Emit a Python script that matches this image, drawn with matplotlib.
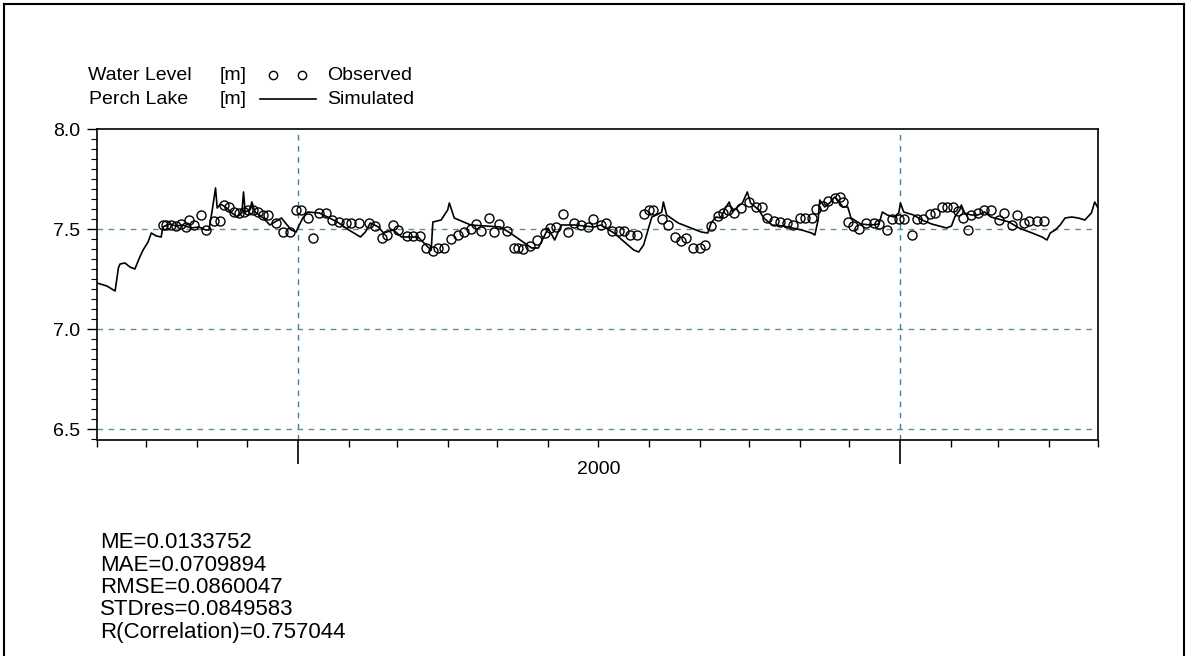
import matplotlib
matplotlib.use("Agg")
import matplotlib.pyplot as plt
import matplotlib.dates as mdates
from matplotlib.lines import Line2D
from matplotlib.ticker import MultipleLocator, FormatStrFormatter
import matplotlib.transforms as mtransforms
import pandas as pd

plt.rcParams['font.family'] = ['Liberation Sans', 'DejaVu Sans']

# day counts start at 1999-09-01
start = pd.Timestamp('1999-09-01')
end = pd.Timestamp('2001-05-01')

sim_day = [0, 6, 11, 13, 14, 17, 20, 23, 26, 28,
           31, 33, 36, 39, 40, 44, 48, 52, 57, 62,
           66, 68, 70, 72, 73, 75, 78, 82, 85, 88,
           89, 90, 93, 94, 96, 101, 105, 108, 112, 118,
           121, 122, 125, 128, 135, 140, 146, 153, 160, 163,
           166, 171, 174, 180, 185, 195, 201, 203, 204, 209,
           213, 214, 217, 227, 245, 251, 264, 268, 272, 274,
           278, 282, 290, 302, 306, 314, 326, 329, 332, 335,
           337, 341, 343, 344, 346, 353, 367, 371, 373, 376,
           379, 381, 384, 386, 389, 392, 395, 397, 402, 405,
           410, 417, 428, 434, 436, 438, 439, 442, 445, 448,
           450, 453, 456, 458, 464, 470, 475, 477, 480, 484,
           487, 488, 490, 496, 501, 507, 516, 519, 521, 524,
           525, 527, 531, 535, 539, 543, 554, 560, 568, 574,
           577, 579, 582, 585, 588, 592, 596, 600, 604, 606,
           608]
sim_level = [7.23, 7.215, 7.19, 7.305, 7.325, 7.33, 7.31, 7.30, 7.36, 7.395,
             7.435, 7.48, 7.465, 7.46, 7.51, 7.525, 7.515, 7.52, 7.505, 7.51,
             7.495, 7.495, 7.595, 7.705, 7.605, 7.625, 7.61, 7.58, 7.56, 7.58,
             7.685, 7.585, 7.595, 7.635, 7.585, 7.555, 7.52, 7.535, 7.555, 7.495,
             7.485, 7.505, 7.555, 7.585, 7.58, 7.56, 7.535, 7.495, 7.46, 7.485,
             7.53, 7.51, 7.48, 7.495, 7.46, 7.46, 7.41, 7.395, 7.535, 7.545,
             7.595, 7.63, 7.555, 7.52, 7.51, 7.48, 7.405, 7.405, 7.47, 7.505,
             7.445, 7.52, 7.52, 7.51, 7.52, 7.48, 7.395, 7.385, 7.42, 7.505,
             7.56, 7.575, 7.585, 7.635, 7.57, 7.53, 7.485, 7.48, 7.53, 7.56,
             7.555, 7.595, 7.635, 7.585, 7.61, 7.63, 7.685, 7.63, 7.595, 7.555,
             7.52, 7.515, 7.495, 7.48, 7.47, 7.545, 7.645, 7.61, 7.63, 7.66,
             7.645, 7.61, 7.61, 7.555, 7.525, 7.52, 7.525, 7.585, 7.57, 7.56,
             7.58, 7.63, 7.585, 7.57, 7.545, 7.525, 7.505, 7.515, 7.56, 7.595,
             7.62, 7.58, 7.57, 7.57, 7.585, 7.56, 7.535, 7.505, 7.48, 7.46,
             7.445, 7.48, 7.495, 7.52, 7.555, 7.56, 7.555, 7.545, 7.58, 7.635,
             7.605]

obs_day = [40, 42, 45, 48, 51, 54, 56, 59, 63, 66,
           71, 75, 77, 80, 83, 86, 89, 92, 95, 98,
           101, 104, 109, 113, 117, 121, 124, 128, 131, 135,
           139, 143, 147, 151, 154, 159, 165, 169, 173, 176,
           180, 183, 188, 192, 196, 200, 204, 207, 211, 215,
           219, 223, 227, 230, 233, 238, 241, 244, 249, 253,
           256, 259, 263, 267, 272, 275, 279, 283, 286, 290,
           294, 298, 301, 306, 309, 313, 317, 320, 324, 328,
           332, 335, 338, 343, 347, 351, 355, 358, 362, 366,
           369, 373, 377, 380, 383, 387, 391, 396, 400, 404,
           407, 411, 415, 419, 423, 427, 430, 434, 437, 441,
           444, 448, 451, 453, 456, 459, 463, 467, 472, 475,
           480, 483, 487, 490, 495, 498, 502, 506, 509, 513,
           516, 520, 523, 526, 529, 531, 535, 539, 543, 548,
           551, 556, 559, 563, 566, 571, 575]
obs_level = [7.52, 7.52, 7.52, 7.515, 7.525, 7.51, 7.545, 7.52, 7.57, 7.495,
             7.54, 7.54, 7.62, 7.61, 7.585, 7.58, 7.585, 7.595, 7.595, 7.585,
             7.57, 7.57, 7.53, 7.485, 7.485, 7.595, 7.595, 7.555, 7.455, 7.58,
             7.58, 7.545, 7.535, 7.53, 7.53, 7.53, 7.53, 7.515, 7.455, 7.47,
             7.52, 7.495, 7.465, 7.465, 7.465, 7.405, 7.39, 7.405, 7.405, 7.45,
             7.47, 7.485, 7.50, 7.525, 7.49, 7.555, 7.485, 7.525, 7.49, 7.405,
             7.405, 7.40, 7.415, 7.445, 7.48, 7.505, 7.51, 7.575, 7.485, 7.53,
             7.52, 7.51, 7.55, 7.52, 7.53, 7.49, 7.49, 7.49, 7.47, 7.47,
             7.575, 7.595, 7.595, 7.55, 7.52, 7.46, 7.44, 7.455, 7.405, 7.405,
             7.42, 7.515, 7.565, 7.58, 7.595, 7.58, 7.605, 7.635, 7.61, 7.61,
             7.555, 7.54, 7.535, 7.53, 7.52, 7.555, 7.555, 7.555, 7.60, 7.615,
             7.64, 7.655, 7.66, 7.635, 7.535, 7.515, 7.50, 7.53, 7.53, 7.525,
             7.495, 7.55, 7.55, 7.55, 7.47, 7.55, 7.55, 7.575, 7.58, 7.61,
             7.61, 7.61, 7.59, 7.555, 7.495, 7.57, 7.58, 7.595, 7.595, 7.545,
             7.58, 7.52, 7.57, 7.53, 7.54, 7.54, 7.54]

stats = ["ME=0.0133752", "MAE=0.0709894", "RMSE=0.0860047",
         "STDres=0.0849583", "R(Correlation)=0.757044"]

sim_date = start + pd.to_timedelta(sim_day, unit='D')
obs_date = start + pd.to_timedelta(obs_day, unit='D')

W, H = 1188, 656
fig = plt.figure(figsize=(W / 100, H / 100), dpi=100)


def fx(x):
    return x / W


def fy(y):
    return 1 - y / H


ax = fig.add_axes([fx(97), fy(440), (1098 - 97) / W, (440 - 129) / H])

# grid lines
for v in [6.5, 7.0, 7.5]:
    ax.axhline(v, color='#5e9186', lw=1.0, dashes=(4, 4), zorder=1)
for d in ['2000-01-01', '2001-01-01']:
    ax.axvline(pd.Timestamp(d), color='#3a80a8', lw=1.0, dashes=(4, 4), zorder=1)

ax.plot(sim_date, sim_level, color='black', lw=1.2, zorder=3)
ax.plot(obs_date, obs_level, ls='none', marker='o', ms=6.5, mfc='none',
        mec='black', mew=1.0, zorder=4)

ax.set_xlim(start, end)
ax.set_ylim(6.445, 8.0)

ax.xaxis.set_major_locator(mdates.YearLocator())
ax.xaxis.set_minor_locator(mdates.MonthLocator())
ax.tick_params(axis='x', which='major', direction='out', length=17, width=1.2,
               labelbottom=False)
ax.tick_params(axis='x', which='minor', direction='out', length=5, width=1.0)

ax.yaxis.set_major_locator(MultipleLocator(0.5))
ax.yaxis.set_minor_locator(MultipleLocator(0.05))
ax.yaxis.set_major_formatter(FormatStrFormatter('%.1f'))
ax.tick_params(axis='y', which='major', direction='out', length=7, width=1.0,
               labelsize=14, pad=5)
ax.tick_params(axis='y', which='minor', direction='out', length=4, width=0.8)

for s in ax.spines.values():
    s.set_linewidth(1.2)

# year label under the middle of the year
trans = mtransforms.blended_transform_factory(ax.transData, ax.transAxes)
ax.text(pd.Timestamp('2000-07-02'), -0.095, '2000', transform=trans,
        ha='center', va='center', fontsize=14)

# legend block at the top
fig.text(fx(140), fy(75), 'Water Level', ha='center', va='center', fontsize=14)
fig.text(fx(139), fy(99), 'Perch Lake', ha='center', va='center', fontsize=14)
fig.text(fx(220), fy(75), '[m]', ha='left', va='center', fontsize=14)
fig.text(fx(220), fy(99), '[m]', ha='left', va='center', fontsize=14)
fig.add_artist(Line2D([fx(273), fx(302)], [fy(75), fy(75)], ls='none',
                      marker='o', ms=6, mfc='none', mec='black', mew=1.0))
fig.add_artist(Line2D([fx(260), fx(316)], [fy(99), fy(99)], color='black', lw=1.2))
fig.text(fx(327), fy(75), 'Observed', ha='left', va='center', fontsize=14)
fig.text(fx(327), fy(99), 'Simulated', ha='left', va='center', fontsize=14)

# statistics
for i, s in enumerate(stats):
    fig.text(fx(100), fy(543 + 22.3 * i), s, ha='left', va='center', fontsize=16)

# outer frame
fig.add_artist(Line2D([fx(4), fx(4)], [fy(4), fy(660)], color='black', lw=1.5))
fig.add_artist(Line2D([fx(4), fx(1184)], [fy(4), fy(4)], color='black', lw=1.5))
fig.add_artist(Line2D([fx(1184), fx(1184)], [fy(4), fy(660)], color='black', lw=1.5))

fig.savefig('out.png', dpi=100)
